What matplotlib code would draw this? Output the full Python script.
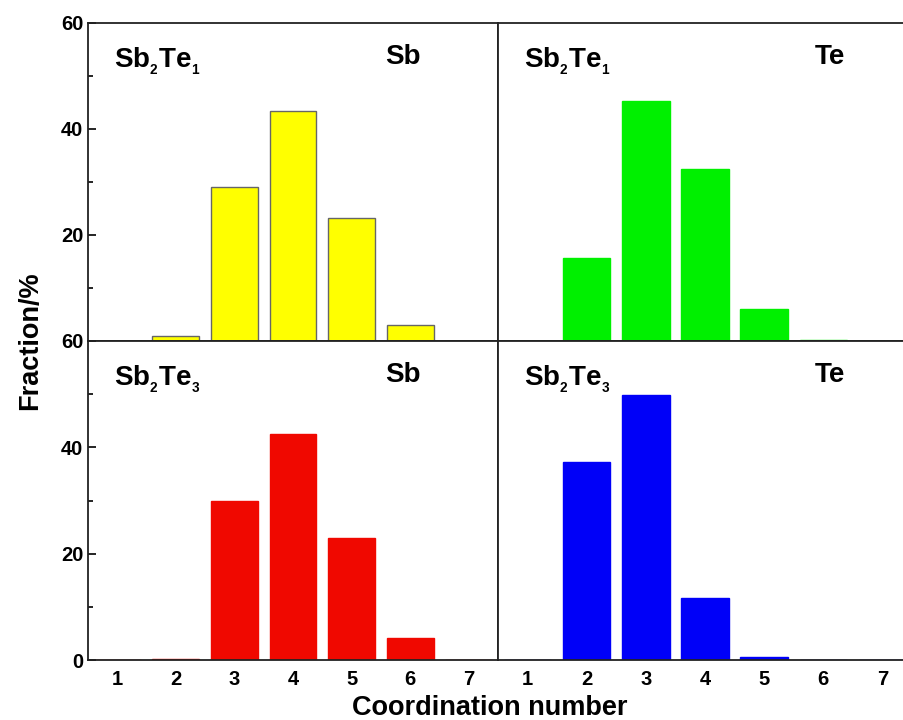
import matplotlib.pyplot as plt
import numpy as np
from matplotlib.ticker import MultipleLocator

plt.rcParams['font.family'] = ['Liberation Sans', 'DejaVu Sans']
plt.rcParams['font.weight'] = 'bold'
plt.rcParams['mathtext.fontset'] = 'custom'
plt.rcParams['mathtext.rm'] = 'Liberation Sans:bold'
plt.rcParams['mathtext.bf'] = 'Liberation Sans:bold'
plt.rcParams['mathtext.default'] = 'rm'

# Coordination number distributions (%)
cn = [1, 2, 3, 4, 5, 6, 7]
sb_sb2te1 = [0.0, 1.0, 29.0, 43.4, 23.2, 3.0, 0.0]
te_sb2te1 = [0.0, 15.7, 45.3, 32.4, 6.0, 0.2, 0.0]
sb_sb2te3 = [0.0, 0.1, 30.0, 42.5, 23.0, 4.1, 0.0]
te_sb2te3 = [0.0, 37.2, 49.9, 11.7, 0.6, 0.0, 0.0]

fig = plt.figure(figsize=(9.04, 7.2), dpi=100)
W, H = 904, 720

def make_ax(x0, y0, x1, y1):
    return fig.add_axes([x0 / W, 1 - y1 / H, (x1 - x0) / W, (y1 - y0) / H])

ax_tl = make_ax(88, 23, 498, 341)
ax_tr = make_ax(498, 23, 912, 341)
ax_bl = make_ax(88, 341, 498, 660)
ax_br = make_ax(498, 341, 912, 660)

panels = [
    (ax_tl, sb_sb2te1, '#ffff00', '#666666', r'Sb$_{_2}$Te$_{_1}$', 'Sb', 0.724),
    (ax_tr, te_sb2te1, '#00f000', '#00f000', r'Sb$_{_2}$Te$_{_1}$', 'Te', 0.766),
    (ax_bl, sb_sb2te3, '#f00800', '#f00800', r'Sb$_{_2}$Te$_{_3}$', 'Sb', 0.724),
    (ax_br, te_sb2te3, '#0000f8', '#0000f8', r'Sb$_{_2}$Te$_{_3}$', 'Te', 0.766),
]

for ax, vals, fc, ec, comp, elem, ex in panels:
    ax.bar(cn, vals, width=0.8, color=fc, edgecolor=ec, linewidth=1)
    ax.set_xlim(0.5, 7.5)
    ax.set_ylim(0, 60)
    ax.yaxis.set_major_locator(MultipleLocator(20))
    ax.yaxis.set_minor_locator(MultipleLocator(10))
    ax.set_xticks(cn)
    ax.tick_params(axis='y', which='major', direction='in', length=6, width=1.2,
                   labelsize=14.5)
    ax.tick_params(axis='y', which='minor', direction='in', length=3.5, width=1.2)
    ax.tick_params(axis='x', length=0, labelsize=14.5, pad=7)
    for s in ax.spines.values():
        s.set_linewidth(1.3)
        s.set_color('#222222')
    ax.text(0.064, 0.892, comp, transform=ax.transAxes, fontsize=20,
            fontweight='bold', va='baseline', ha='left').set_y(0.862)
    ax.text(ex, 0.892, elem, transform=ax.transAxes, fontsize=20,
            fontweight='bold', va='center', ha='left')

# Shared axis labels only on the outer panels
ax_tl.tick_params(axis='x', labelbottom=False)
ax_tr.tick_params(axis='x', labelbottom=False)
ax_tr.tick_params(axis='y', which='both', left=False, labelleft=False)
ax_br.tick_params(axis='y', which='both', left=False, labelleft=False)
ax_tl.set_yticks([20, 40, 60])
ax_tr.spines['right'].set_visible(False)
ax_br.spines['right'].set_visible(False)

fig.text(30 / W, 1 - 341 / H, 'Fraction/%', rotation=90, fontsize=19.5,
         fontweight='bold', va='center', ha='center')
fig.text(490 / W, 1 - 708 / H, 'Coordination number', fontsize=19.5,
         fontweight='bold', va='center', ha='center')

fig.savefig('out.png', dpi=100)
